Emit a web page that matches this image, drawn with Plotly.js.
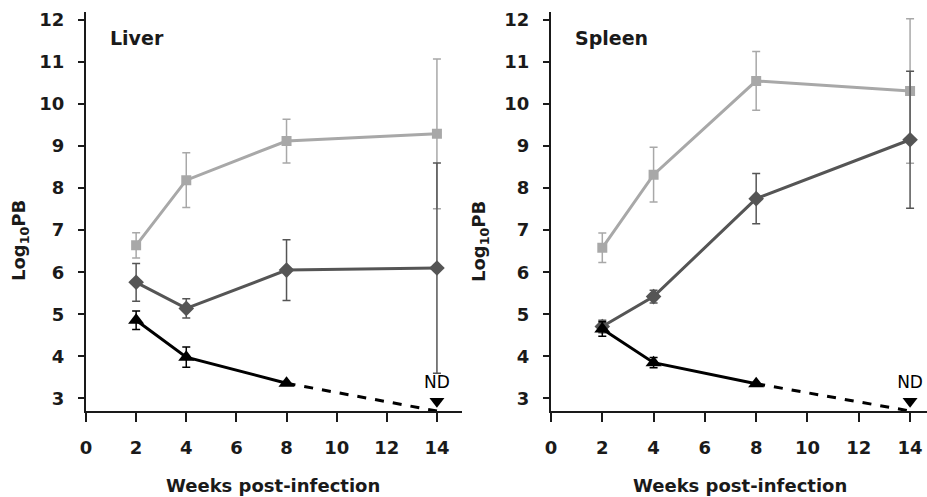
<!DOCTYPE html>
<html>
<head>
<meta charset="utf-8">
<script src="https://cdn.plot.ly/plotly-3.0.1.min.js"></script>
<style>html,body{margin:0;padding:0;background:#fff}#chart{width:927px;height:497px}</style>
</head>
<body>
<div id="chart"></div>
<script>
const weeks = [2, 4, 8, 14];
const weeksBlack = [2, 4, 8];
const xTicks = [0, 2, 4, 6, 8, 10, 12, 14];
const yTicks = [3, 4, 5, 6, 7, 8, 9, 10, 11, 12];

const liverLight = [6.64, 8.19, 9.12, 9.29];
const liverLightErr = [0.3, 0.65, 0.52, 1.78];
const liverDark = [5.76, 5.14, 6.05, 6.1];
const liverDarkErr = [0.45, 0.23, 0.72, 2.5];
const liverBlack = [4.86, 3.98, 3.36];
const liverBlackErr = [0.22, 0.24, 0];

const spleenLight = [6.58, 8.32, 10.55, 10.31];
const spleenLightErr = [0.35, 0.65, 0.7, 1.72];
const spleenDark = [4.71, 5.42, 7.75, 9.15];
const spleenDarkErr = [0.15, 0.15, 0.6, 1.63];
const spleenBlack = [4.65, 3.85, 3.35];
const spleenBlackErr = [0.17, 0.12, 0];

const ndWeek = 14;
const ndLineEnd = 2.7;
const ndMarker = 2.93;
const ndLabel = "ND";

const panelTitles = ["Liver", "Spleen"];
const xTitle = "Weeks post-infection";
const yTitle = "Log<sub>10</sub>PB";

const LIGHT = "#a8a8a8", DARK = "#555555", BLACK = "#000000";
const FONT = "DejaVu Sans, Verdana, sans-serif";
const INK = "#1a1a1a";

function panel(xa, ya, light, lightErr, dark, darkErr, black, blackErr) {
  return [
    {x: weeks, y: light, xaxis: xa, yaxis: ya, mode: "lines+markers", type: "scatter",
     line: {color: LIGHT, width: 3}, marker: {symbol: "square", size: 10, color: LIGHT},
     error_y: {type: "data", array: lightErr, color: LIGHT, thickness: 1.5, width: 4}},
    {x: weeks, y: dark, xaxis: xa, yaxis: ya, mode: "lines+markers", type: "scatter",
     line: {color: DARK, width: 3}, marker: {symbol: "diamond", size: 12, color: DARK},
     error_y: {type: "data", array: darkErr, color: DARK, thickness: 1.5, width: 4}},
    {x: weeksBlack, y: black, xaxis: xa, yaxis: ya, mode: "lines+markers", type: "scatter",
     line: {color: BLACK, width: 3}, marker: {symbol: "triangle-up", size: 14, color: BLACK},
     error_y: {type: "data", array: blackErr, color: BLACK, thickness: 1.5, width: 4}},
    {x: [weeksBlack[weeksBlack.length - 1], ndWeek], y: [black[black.length - 1], ndLineEnd],
     xaxis: xa, yaxis: ya, mode: "lines", type: "scatter",
     line: {color: BLACK, width: 3, dash: "dash"}},
    {x: [ndWeek], y: [ndMarker], xaxis: xa, yaxis: ya, mode: "markers+text", type: "scatter",
     marker: {symbol: "triangle-down", size: 13, color: BLACK}, text: [ndLabel],
     textposition: "top center", textfont: {family: FONT, size: 17, color: BLACK},
     cliponaxis: false}
  ];
}

const data = [].concat(
  panel("x", "y", liverLight, liverLightErr, liverDark, liverDarkErr, liverBlack, liverBlackErr),
  panel("x2", "y2", spleenLight, spleenLightErr, spleenDark, spleenDarkErr, spleenBlack, spleenBlackErr)
);

const W = 927, H = 497;
const yDom = [(H - 411) / H, (H - 11.5) / H];
function xAxis(dom, rng, anchor) {
  return {domain: dom, range: rng, anchor: anchor, showline: true, linecolor: INK, linewidth: 2,
    ticks: "outside", ticklen: 9, tickwidth: 2, tickcolor: INK, tickvals: xTicks,
    ticktext: xTicks.map(String), ticklabelstandoff: 10, showgrid: false, zeroline: false,
    tickfont: {family: FONT, size: 18, color: INK, weight: "bold"}, automargin: false, fixedrange: true};
}
function yAxis(rng, anchor) {
  return {domain: yDom, range: rng, anchor: anchor, showline: true, linecolor: INK, linewidth: 2,
    ticks: "outside", ticklen: 6, tickwidth: 2, tickcolor: INK, tickvals: yTicks,
    ticktext: yTicks.map(String), ticklabelstandoff: 10, showgrid: false, zeroline: false,
    tickfont: {family: FONT, size: 18, color: INK, weight: "bold"}, automargin: false, fixedrange: true};
}

const titleFont = {family: FONT, size: 18, color: INK, weight: "bold"};
const panelFont = {family: FONT, size: 19, color: INK, weight: "bold"};
const layout = {
  width: W, height: H, margin: {l: 0, r: 0, t: 0, b: 0},
  paper_bgcolor: "#fff", plot_bgcolor: "#fff", showlegend: false,
  xaxis: xAxis([86 / W, 462 / W], [0, 15], "y"),
  yaxis: yAxis([2.7, 12.2], "x"),
  xaxis2: xAxis([551 / W, 1], [0, 14.66], "y2"),
  yaxis2: yAxis([2.7, 12.2], "x2"),
  annotations: [
    {xref: "paper", yref: "paper", x: 108 / W, y: (H - 38) / H, xanchor: "left", yanchor: "middle",
     text: panelTitles[0], showarrow: false, font: panelFont},
    {xref: "paper", yref: "paper", x: 573 / W, y: (H - 38) / H, xanchor: "left", yanchor: "middle",
     text: panelTitles[1], showarrow: false, font: panelFont},
    {xref: "paper", yref: "paper", x: 273 / W, y: (H - 485) / H, xanchor: "center", yanchor: "middle",
     text: xTitle, showarrow: false, font: titleFont},
    {xref: "paper", yref: "paper", x: 740 / W, y: (H - 485) / H, xanchor: "center", yanchor: "middle",
     text: xTitle, showarrow: false, font: titleFont},
    {xref: "paper", yref: "paper", x: 20 / W, y: (H - 241) / H, xanchor: "center", yanchor: "middle",
     text: yTitle, textangle: -90, showarrow: false, font: titleFont},
    {xref: "paper", yref: "paper", x: 480 / W, y: (H - 241) / H, xanchor: "center", yanchor: "middle",
     text: yTitle, textangle: -90, showarrow: false, font: titleFont}
  ]
};

Plotly.newPlot("chart", data, layout, {staticPlot: true, displayModeBar: false});
</script>
</body>
</html>
